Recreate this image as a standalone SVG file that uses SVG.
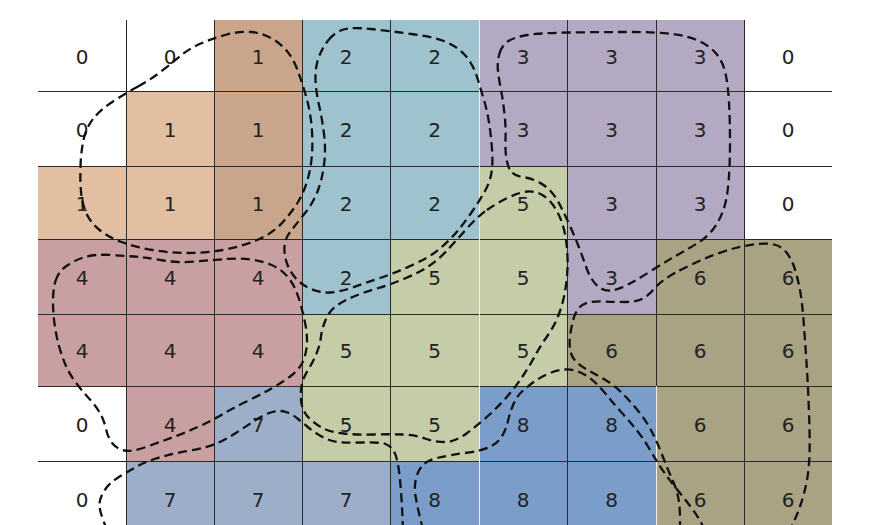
<svg xmlns="http://www.w3.org/2000/svg" width="882" height="525" viewBox="0 0 882 525">
<style>
.c0{fill:#ffffff}.c1a{fill:#E2BFA1}.c1b{fill:#C9A68B}.c2{fill:#9EC3CE}.c3{fill:#B3A9C3}.c4{fill:#C9A0A2}.c5{fill:#C4CCA8}.c6{fill:#AAA383}.c7{fill:#9DAEC8}.c8{fill:#7B9DC9}
text{font-family:"DejaVu Sans","Liberation Sans",sans-serif;font-size:20px;fill:#222;text-anchor:middle}
.grid{stroke:#2a2a2a;stroke-width:1;fill:none}
.gridw{stroke:#eeeeee;stroke-width:1;fill:none}
.blob{fill:none;stroke:#111;stroke-width:2.3;stroke-dasharray:9 5}
</style>
<rect x="0" y="0" width="882" height="525" fill="#ffffff"/>
<g id="cells">
<g id="r0c0"><rect class="c0" x="38" y="20" width="88" height="71"/><text x="82" y="63.5">0</text></g>
<g id="r0c1"><rect class="c0" x="126" y="20" width="88" height="71"/><text x="170" y="63.5">0</text></g>
<g id="r0c2"><rect class="c1b" x="214" y="20" width="88" height="71"/><text x="258" y="63.5">1</text></g>
<g id="r0c3"><rect class="c2" x="302" y="20" width="88" height="71"/><text x="346" y="63.5">2</text></g>
<g id="r0c4"><rect class="c2" x="390" y="20" width="89" height="71"/><text x="434.5" y="63.5">2</text></g>
<g id="r0c5"><rect class="c3" x="479" y="20" width="88" height="71"/><text x="523" y="63.5">3</text></g>
<g id="r0c6"><rect class="c3" x="567" y="20" width="89" height="71"/><text x="611.5" y="63.5">3</text></g>
<g id="r0c7"><rect class="c3" x="656" y="20" width="88" height="71"/><text x="700" y="63.5">3</text></g>
<g id="r0c8"><rect class="c0" x="744" y="20" width="88" height="71"/><text x="788" y="63.5">0</text></g>

<g id="r1c0"><rect class="c0" x="38" y="91" width="88" height="75"/><text x="82" y="136.5">0</text></g>
<g id="r1c1"><rect class="c1a" x="126" y="91" width="88" height="75"/><text x="170" y="136.5">1</text></g>
<g id="r1c2"><rect class="c1b" x="214" y="91" width="88" height="75"/><text x="258" y="136.5">1</text></g>
<g id="r1c3"><rect class="c2" x="302" y="91" width="88" height="75"/><text x="346" y="136.5">2</text></g>
<g id="r1c4"><rect class="c2" x="390" y="91" width="89" height="75"/><text x="434.5" y="136.5">2</text></g>
<g id="r1c5"><rect class="c3" x="479" y="91" width="88" height="75"/><text x="523" y="136.5">3</text></g>
<g id="r1c6"><rect class="c3" x="567" y="91" width="89" height="75"/><text x="611.5" y="136.5">3</text></g>
<g id="r1c7"><rect class="c3" x="656" y="91" width="88" height="75"/><text x="700" y="136.5">3</text></g>
<g id="r1c8"><rect class="c0" x="744" y="91" width="88" height="75"/><text x="788" y="136.5">0</text></g>

<g id="r2c0"><rect class="c1a" x="38" y="166" width="88" height="73"/><text x="82" y="210.5">1</text></g>
<g id="r2c1"><rect class="c1a" x="126" y="166" width="88" height="73"/><text x="170" y="210.5">1</text></g>
<g id="r2c2"><rect class="c1b" x="214" y="166" width="88" height="73"/><text x="258" y="210.5">1</text></g>
<g id="r2c3"><rect class="c2" x="302" y="166" width="88" height="73"/><text x="346" y="210.5">2</text></g>
<g id="r2c4"><rect class="c2" x="390" y="166" width="89" height="73"/><text x="434.5" y="210.5">2</text></g>
<g id="r2c5"><rect class="c5" x="479" y="166" width="88" height="73"/><text x="523" y="210.5">5</text></g>
<g id="r2c6"><rect class="c3" x="567" y="166" width="89" height="73"/><text x="611.5" y="210.5">3</text></g>
<g id="r2c7"><rect class="c3" x="656" y="166" width="88" height="73"/><text x="700" y="210.5">3</text></g>
<g id="r2c8"><rect class="c0" x="744" y="166" width="88" height="73"/><text x="788" y="210.5">0</text></g>

<g id="r3c0"><rect class="c4" x="38" y="239" width="88" height="75"/><text x="82" y="284.5">4</text></g>
<g id="r3c1"><rect class="c4" x="126" y="239" width="88" height="75"/><text x="170" y="284.5">4</text></g>
<g id="r3c2"><rect class="c4" x="214" y="239" width="88" height="75"/><text x="258" y="284.5">4</text></g>
<g id="r3c3"><rect class="c2" x="302" y="239" width="88" height="75"/><text x="346" y="284.5">2</text></g>
<g id="r3c4"><rect class="c5" x="390" y="239" width="89" height="75"/><text x="434.5" y="284.5">5</text></g>
<g id="r3c5"><rect class="c5" x="479" y="239" width="88" height="75"/><text x="523" y="284.5">5</text></g>
<g id="r3c6"><rect class="c3" x="567" y="239" width="89" height="75"/><text x="611.5" y="284.5">3</text></g>
<g id="r3c7"><rect class="c6" x="656" y="239" width="88" height="75"/><text x="700" y="284.5">6</text></g>
<g id="r3c8"><rect class="c6" x="744" y="239" width="88" height="75"/><text x="788" y="284.5">6</text></g>

<g id="r4c0"><rect class="c4" x="38" y="314" width="88" height="72"/><text x="82" y="358">4</text></g>
<g id="r4c1"><rect class="c4" x="126" y="314" width="88" height="72"/><text x="170" y="358">4</text></g>
<g id="r4c2"><rect class="c4" x="214" y="314" width="88" height="72"/><text x="258" y="358">4</text></g>
<g id="r4c3"><rect class="c5" x="302" y="314" width="88" height="72"/><text x="346" y="358">5</text></g>
<g id="r4c4"><rect class="c5" x="390" y="314" width="89" height="72"/><text x="434.5" y="358">5</text></g>
<g id="r4c5"><rect class="c5" x="479" y="314" width="88" height="72"/><text x="523" y="358">5</text></g>
<g id="r4c6"><rect class="c6" x="567" y="314" width="89" height="72"/><text x="611.5" y="358">6</text></g>
<g id="r4c7"><rect class="c6" x="656" y="314" width="88" height="72"/><text x="700" y="358">6</text></g>
<g id="r4c8"><rect class="c6" x="744" y="314" width="88" height="72"/><text x="788" y="358">6</text></g>

<g id="r5c0"><rect class="c0" x="38" y="386" width="88" height="75"/><text x="82" y="431.5">0</text></g>
<g id="r5c1"><rect class="c4" x="126" y="386" width="88" height="75"/><text x="170" y="431.5">4</text></g>
<g id="r5c2"><rect class="c7" x="214" y="386" width="88" height="75"/><text x="258" y="431.5">7</text></g>
<g id="r5c3"><rect class="c5" x="302" y="386" width="88" height="75"/><text x="346" y="431.5">5</text></g>
<g id="r5c4"><rect class="c5" x="390" y="386" width="89" height="75"/><text x="434.5" y="431.5">5</text></g>
<g id="r5c5"><rect class="c8" x="479" y="386" width="88" height="75"/><text x="523" y="431.5">8</text></g>
<g id="r5c6"><rect class="c8" x="567" y="386" width="89" height="75"/><text x="611.5" y="431.5">8</text></g>
<g id="r5c7"><rect class="c6" x="656" y="386" width="88" height="75"/><text x="700" y="431.5">6</text></g>
<g id="r5c8"><rect class="c6" x="744" y="386" width="88" height="75"/><text x="788" y="431.5">6</text></g>

<g id="r6c0"><rect class="c0" x="38" y="461" width="88" height="64"/><text x="82" y="506.5">0</text></g>
<g id="r6c1"><rect class="c7" x="126" y="461" width="88" height="64"/><text x="170" y="506.5">7</text></g>
<g id="r6c2"><rect class="c7" x="214" y="461" width="88" height="64"/><text x="258" y="506.5">7</text></g>
<g id="r6c3"><rect class="c7" x="302" y="461" width="88" height="64"/><text x="346" y="506.5">7</text></g>
<g id="r6c4"><rect class="c8" x="390" y="461" width="89" height="64"/><text x="434.5" y="506.5">8</text></g>
<g id="r6c5"><rect class="c8" x="479" y="461" width="88" height="64"/><text x="523" y="506.5">8</text></g>
<g id="r6c6"><rect class="c8" x="567" y="461" width="89" height="64"/><text x="611.5" y="506.5">8</text></g>
<g id="r6c7"><rect class="c6" x="656" y="461" width="88" height="64"/><text x="700" y="506.5">6</text></g>
<g id="r6c8"><rect class="c6" x="744" y="461" width="88" height="64"/><text x="788" y="506.5">6</text></g>
</g>
<g id="grid">
<path class="grid" d="M38,91.5H832M38,166.5H832M38,239.5H832M38,314.5H832M38,386.5H832M38,461.5H832M126.5,20V525M214.5,20V525M302.5,20V525M390.5,20V525M567.5,20V525M656.5,20V386M744.5,20V525"/>
<path class="gridw" d="M479.5,20V525M656.5,386V525"/>
</g>
<g id="connectors">
<path id="blob1" class="blob" d="M138,86.5 Q150,80 161,71.5 Q172,63 181,55.5 Q190,48 202,43 Q214,38 227,34.5 Q240,31 251,32 Q262,33 271,38 Q280,43 286.5,50.5 Q293,58 297.5,70 Q302,82 306,96 Q310,110 311.5,125 Q313,140 312,154 Q311,168 307.5,180 Q304,192 298,202 Q292,212 282,223 Q272,234 256,240.5 Q240,247 222.5,250 Q205,253 187.5,253 Q170,253 152.5,250 Q135,247 121.5,242 Q108,237 99,229.5 Q90,222 86,212.5 Q82,203 81,191.5 Q80,180 80.5,166 Q81,152 83.5,140 Q86,128 93,119 Q100,110 113,101.5 Q126,93 138,86.5 Z"/>
<path id="blob2" class="blob" d="M328.5,40 Q335,32 343.5,29.5 Q352,27 371,29 Q390,31 411.5,34 Q433,37 442.5,40.5 Q452,44 459,49.5 Q466,55 470.5,62.5 Q475,70 478,80 Q481,90 484,100 Q487,110 489,122.5 Q491,135 492,149 Q493,163 491.5,172.5 Q490,182 485,191 Q480,200 472.5,211 Q465,222 457.5,231 Q450,240 440,248.5 Q430,257 412.5,265 Q395,273 380,278 Q365,283 352.5,287.5 Q340,292 330,292.5 Q320,293 311,289 Q302,285 296,278.5 Q290,272 287,263.5 Q284,255 284.5,246.5 Q285,238 291.5,230 Q298,222 305.5,212.5 Q313,203 317.5,191.5 Q322,180 324,165 Q326,150 324,134 Q322,118 319,105 Q316,92 315.5,80 Q315,68 318.5,58 Q322,48 328.5,40 Z"/>
<path id="blob3" class="blob" d="M499.5,53.5 Q502,45 508.5,41 Q515,37 527.5,35 Q540,33 570,32.5 Q600,32 628.5,32 Q657,32 672.5,34 Q688,36 699,41 Q710,46 716.5,54 Q723,62 725.5,73.5 Q728,85 729,102.5 Q730,120 730,142.5 Q730,165 728.5,182.5 Q727,200 723,211 Q719,222 712.5,230 Q706,238 697,243.5 Q688,249 676.5,255.5 Q665,262 652.5,270 Q640,278 629,284 Q618,290 610,290.5 Q602,291 596,284.5 Q590,278 586.5,268 Q583,258 579,247.5 Q575,237 570,226 Q565,215 560.5,206 Q556,197 550.5,191 Q545,185 537.5,181.5 Q530,178 522.5,177 Q515,176 511.5,172 Q508,168 506.5,159 Q505,150 505.5,139 Q506,128 504.5,114 Q503,100 501,90 Q499,80 498,71 Q497,62 499.5,53.5 Z"/>
<path id="blob4" class="blob" d="M55.5,281 Q58,272 66.5,266 Q75,260 85,257 Q95,254 111,255 Q127,256 138.5,257 Q150,258 163.5,260.5 Q177,263 195,261.5 Q213,260 226.5,259 Q240,258 251,259.5 Q262,261 270.5,264.5 Q279,268 285,274 Q291,280 294.5,287.5 Q298,295 300.5,304 Q303,313 305,322.5 Q307,332 307,341 Q307,350 304,359 Q301,368 292,375 Q283,382 271.5,388.5 Q260,395 246.5,401.5 Q233,408 223,414 Q213,420 200,426 Q187,432 173.5,437 Q160,442 146,447 Q132,452 124.5,450.5 Q117,449 112.5,443.5 Q108,438 106,429 Q104,420 100,413 Q96,406 89.5,399 Q83,392 76.5,383.5 Q70,375 66,366 Q62,357 59,346 Q56,335 54.5,323.5 Q53,312 53,301 Q53,290 55.5,281 Z"/>
<path id="blob5" class="blob" d="M487,210 Q497,203 508.5,197.5 Q520,192 527.5,191.5 Q535,191 541.5,194.5 Q548,198 553,205 Q558,212 561,220 Q564,228 565.5,236.5 Q567,245 567.5,257.5 Q568,270 566,285 Q564,300 559.5,312.5 Q555,325 548,335 Q541,345 535.5,355 Q530,365 523.5,375 Q517,385 508.5,395 Q500,405 489,415 Q478,425 466.5,433.5 Q455,442 445,442 Q435,442 425,438.5 Q415,435 402.5,434.5 Q390,434 373.5,434.5 Q357,435 343.5,433.5 Q330,432 322.5,428 Q315,424 309,418 Q303,412 301.5,403.5 Q300,395 301.5,386.5 Q303,378 308,370 Q313,362 316.5,353.5 Q320,345 321,336.5 Q322,328 326,319 Q330,310 337.5,305 Q345,300 355,296 Q365,292 378.5,288 Q392,284 406,278 Q420,272 429,266 Q438,260 446.5,251 Q455,242 466,229.5 Q477,217 487,210 Z"/>
<path id="blob6" class="blob" d="M680,530 L680,519 Q680,508 678.5,499 Q677,490 672.5,480 Q668,470 663,457 Q658,444 652.5,433 Q647,422 639,412 Q631,402 622.5,393.5 Q614,385 605.5,380 Q597,375 589.5,371 Q582,367 577,362.5 Q572,358 570.5,351.5 Q569,345 570,336.5 Q571,328 573,320.5 Q575,313 578.5,308.5 Q582,304 588.5,302.5 Q595,301 605,301.5 Q615,302 625.5,302 Q636,302 642,299 Q648,296 653,290 Q658,284 666,278.5 Q674,273 688.5,266 Q703,259 715,254.5 Q727,250 737.5,247.5 Q748,245 757.5,244 Q767,243 774,244.5 Q781,246 786,252 Q791,258 794,266.5 Q797,275 799.5,287.5 Q802,300 803.5,320 Q805,340 806.5,362.5 Q808,385 809,412.5 Q810,440 809.5,455 Q809,470 806.5,482.5 Q804,495 800.5,505 Q797,515 793.5,522.5 L790,530"/>
<path id="blob7" class="blob" d="M107,530 L103.5,521 Q100,512 99.5,506 Q99,500 103.5,492 Q108,484 117.5,478 Q127,472 137,466.5 Q147,461 161,457 Q175,453 190,450.5 Q205,448 215,444 Q225,440 235,433.5 Q245,427 255,420.5 Q265,414 272.5,412 Q280,410 286,412 Q292,414 297.5,418.5 Q303,423 309,428 Q315,433 322.5,437 Q330,441 337.5,442 Q345,443 362.5,442.5 Q380,442 385.5,444 Q391,446 394,451.5 Q397,457 398.5,467.5 Q400,478 401,491.5 Q402,505 402.5,517.5 L403,530"/>
<path id="blob8" class="blob" d="M423,530 L420,517.5 Q417,505 415.5,496 Q414,487 416,478.5 Q418,470 423,465 Q428,460 439,457.5 Q450,455 465,453 Q480,451 488.5,447.5 Q497,444 501.5,437 Q506,430 508,421 Q510,412 513.5,404 Q517,396 522.5,391 Q528,386 534.5,381.5 Q541,377 549,373.5 Q557,370 565,369.5 Q573,369 580.5,372.5 Q588,376 594.5,382 Q601,388 607.5,396 Q614,404 622,413 Q630,422 636.5,430 Q643,438 648,446.5 Q653,455 657,461.5 Q661,468 666,475 Q671,482 677.5,490 Q684,498 690.5,506.5 Q697,515 701,522.5 L705,530"/>
</g>
</svg>
